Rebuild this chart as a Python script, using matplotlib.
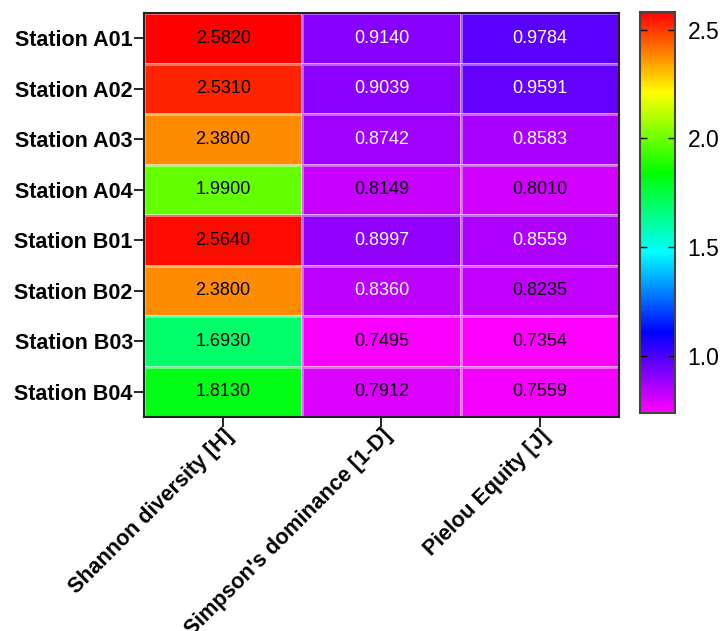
import numpy as np
import matplotlib
matplotlib.use("Agg")
import matplotlib.pyplot as plt
from matplotlib.colors import ListedColormap, hsv_to_rgb

# Data
stations = ["Station A01", "Station A02", "Station A03", "Station A04",
            "Station B01", "Station B02", "Station B03", "Station B04"]
indices = ["Shannon diversity [H]", "Simpson's dominance [1-D]", "Pielou Equity [J]"]
shannon = [2.5820, 2.5310, 2.3800, 1.9900, 2.5640, 2.3800, 1.6930, 1.8130]
simpson = [0.9140, 0.9039, 0.8742, 0.8149, 0.8997, 0.8360, 0.7495, 0.7912]
pielou = [0.9784, 0.9591, 0.8583, 0.8010, 0.8559, 0.8235, 0.7354, 0.7559]
cbar_ticks = [1.0, 1.5, 2.0, 2.5]

values = np.column_stack([shannon, simpson, pielou])

plt.rcParams['font.family'] = ['Liberation Sans', 'DejaVu Sans']

# rainbow colormap: magenta (low) -> blue -> cyan -> green -> yellow -> red (high)
hues = np.linspace(300 / 360, 0, 256)
hsv = np.column_stack([hues, np.ones(256), np.ones(256)])
cmap = ListedColormap(hsv_to_rgb(hsv))

fig = plt.figure(figsize=(7.26, 6.31), dpi=100)
ax = fig.add_axes([0.1983, 0.3391, 0.6543, 0.6403])
cax = fig.add_axes([0.8815, 0.3455, 0.0482, 0.6355])

vmin, vmax = values.min(), values.max()
mesh = ax.pcolormesh(values, cmap=cmap, vmin=vmin, vmax=vmax,
                     edgecolors=(1, 1, 1, 0.4), linewidth=0.8)
ax.set_xlim(0, len(indices))
ax.set_ylim(len(stations), 0)

for i in range(len(stations)):
    for j in range(len(indices)):
        v = values[i, j]
        col = "white" if 0.83 < v < 1.3 else "black"
        ax.text(j + 0.5, i + 0.5, f"{v:.4f}", ha="center", va="center",
                fontsize=13, color=col)

ax.set_yticks(np.arange(len(stations)) + 0.5)
ax.set_yticklabels(stations, fontsize=15.5, fontweight="bold")
ax.set_xticks(np.arange(len(indices)) + 0.5)
ax.set_xticklabels(indices, fontsize=15.5, fontweight="bold", rotation=45,
                   ha="right", rotation_mode="anchor")
ax.tick_params(axis="y", length=7, width=1.2, pad=1)
ax.tick_params(axis="x", length=7, width=1.2, pad=-1)
for s in ax.spines.values():
    s.set_linewidth(1.5)
    s.set_color("#222222")

cbar = fig.colorbar(mesh, cax=cax, ticks=cbar_ticks)
cbar.ax.tick_params(direction="in", left=True, right=True, length=5,
                    width=1, labelsize=16.5, pad=9)
cbar.outline.set_linewidth(1.5)
cbar.outline.set_edgecolor("#444444")

fig.savefig("out.png", dpi=100)
